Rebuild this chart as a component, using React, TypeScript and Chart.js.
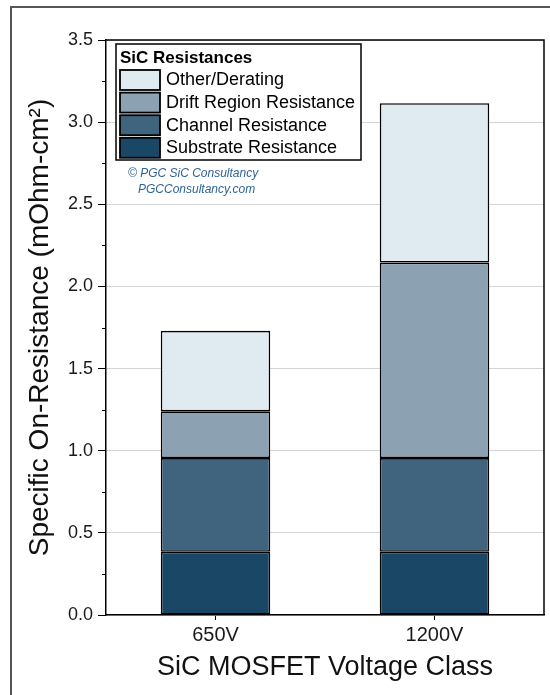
import { useEffect, useRef } from 'react';
import { Chart, registerables } from 'chart.js';

Chart.register(...registerables);

const categories = ['650V', '1200V'];
const substrate = [0.385, 0.385];
const channel = [0.57, 0.57];
const drift = [0.285, 1.19];
const other = [0.49, 0.97];
const seriesNames = ['Substrate Resistance', 'Channel Resistance', 'Drift Region Resistance', 'Other/Derating'];
const seriesColors = ['#1a4766', '#41647e', '#8ca1b2', '#e0eaf1'];
const legendTitle = 'SiC Resistances';
const credits = ['\u00a9 PGC SiC Consultancy', 'PGCConsultancy.com'];
const yTitle = 'Specific On-Resistance (mOhm-cm\u00b2)';
const xTitle = 'SiC MOSFET Voltage Class';
const yMin = 0;
const yMax = 3.5;
const yStep = 0.5;

const FONT = "'Liberation Sans', Arial, sans-serif";

const decor = {
  id: 'decor',
  beforeDraw(chart: any) {
    const { ctx, width, height } = chart;
    ctx.save();
    ctx.fillStyle = '#fff';
    ctx.fillRect(0, 0, width, height);
    ctx.strokeStyle = '#555';
    ctx.lineWidth = 2;
    ctx.beginPath();
    ctx.moveTo(11, height);
    ctx.lineTo(11, 7);
    ctx.lineTo(width, 7);
    ctx.stroke();
    ctx.restore();
  },
  afterDraw(chart: any) {
    const { ctx, chartArea: a, scales } = chart;
    ctx.save();
    ctx.strokeStyle = '#000';
    ctx.lineWidth = 1.5;
    ctx.beginPath();
    ctx.moveTo(a.left, a.top);
    ctx.lineTo(a.right, a.top);
    ctx.lineTo(a.right, a.bottom);
    ctx.stroke();
    // minor ticks
    ctx.lineWidth = 1;
    const ys = scales.y;
    for (let v = yMin + yStep / 2; v < yMax; v += yStep) {
      const py = Math.round(ys.getPixelForValue(v)) + 0.5;
      ctx.beginPath();
      ctx.moveTo(a.left - 4, py);
      ctx.lineTo(a.left, py);
      ctx.stroke();
    }
    // legend
    const lx = a.left + 10;
    const ly = a.top + 4;
    const lw = 245;
    const lh = 116;
    ctx.fillStyle = '#fff';
    ctx.fillRect(lx, ly, lw, lh);
    ctx.strokeStyle = '#000';
    ctx.lineWidth = 1.5;
    ctx.strokeRect(lx, ly, lw, lh);
    ctx.fillStyle = '#000';
    ctx.font = `bold 17px ${FONT}`;
    ctx.textBaseline = 'alphabetic';
    ctx.textAlign = 'left';
    ctx.fillText(legendTitle, lx + 4, ly + 19);
    const ds = chart.data.datasets;
    ctx.font = `18px ${FONT}`;
    ctx.textBaseline = 'middle';
    for (let i = 0; i < ds.length; i++) {
      const d = ds[ds.length - 1 - i];
      const sy = ly + 26 + i * 22.6;
      ctx.fillStyle = d.backgroundColor;
      ctx.fillRect(lx + 4, sy, 40, 20);
      ctx.strokeStyle = '#000';
      ctx.lineWidth = 1.8;
      ctx.strokeRect(lx + 4, sy, 40, 20);
      ctx.fillStyle = '#000';
      ctx.fillText(d.label, lx + 50, sy + 10.5);
    }
    // credits
    ctx.fillStyle = '#2f6496';
    ctx.font = `italic 12px ${FONT}`;
    ctx.textBaseline = 'alphabetic';
    ctx.fillText(credits[0], lx + 12, ly + 133);
    ctx.fillText(credits[1], lx + 22, ly + 149);
    ctx.restore();
  },
};

export default function App() {
  const ref = useRef<HTMLCanvasElement>(null);
  useEffect(() => {
    document.body.style.margin = '0';
    const datasets = [substrate, channel, drift, other].map((data, i) => ({
      label: seriesNames[i],
      data,
      backgroundColor: seriesColors[i],
      borderColor: '#000',
      borderWidth: 1.6,
      borderSkipped: false,
      barPercentage: 0.5,
      categoryPercentage: 1,
    }));
    const chart = new Chart(ref.current!, {
      type: 'bar',
      data: { labels: categories, datasets },
      plugins: [decor],
      options: {
        animation: false,
        responsive: false,
        devicePixelRatio: 1,
        layout: { padding: { top: 40, right: 6, left: 0, bottom: 0 } },
        plugins: { legend: { display: false }, tooltip: { enabled: false } },
        scales: {
          x: {
            stacked: true,
            afterFit: (s: any) => { s.height = 80; },
            grid: { display: true, drawOnChartArea: false, drawTicks: true, tickLength: 5, tickColor: '#000', offset: false },
            border: { display: true, color: '#000', width: 1.5 },
            ticks: { color: '#1a1a1a', font: { family: FONT, size: 20 }, padding: 3 },
            title: { display: true, text: xTitle, color: '#111', font: { family: FONT, size: 27 }, padding: { top: 0, bottom: 11 } },
          },
          y: {
            stacked: true,
            min: yMin,
            max: yMax,
            afterFit: (s: any) => { s.width = 106; },
            grid: { color: '#d4d4d4', lineWidth: 1, tickColor: '#000', tickLength: 8 },
            border: { display: true, color: '#000', width: 1.5 },
            ticks: {
              stepSize: yStep,
              color: '#1a1a1a',
              font: { family: FONT, size: 18 },
              padding: 5,
              callback: (v: any) => Number(v).toFixed(1),
            },
            title: { display: true, text: yTitle, color: '#111', font: { family: FONT, size: 28 }, padding: { top: 23, bottom: 0 } },
          },
        },
      },
    });
    return () => chart.destroy();
  }, []);
  return <canvas ref={ref} width={550} height={695} style={{ display: 'block' }} />;
}
